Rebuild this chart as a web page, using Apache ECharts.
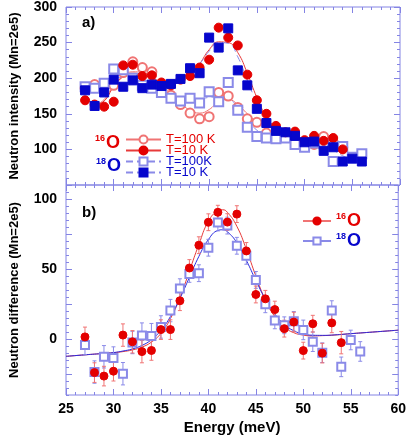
<!DOCTYPE html>
<html>
<head>
<meta charset="utf-8">
<style>
    html, body { margin: 0; padding: 0; background: #fff; }
    #chart { width: 409px; height: 436px; }
</style>
<script src="https://cdn.jsdelivr.net/npm/echarts@6/dist/echarts.min.js"></script>
</head>
<body>
<div id="chart"></div>
<script>
// energy grid of the measured points (meV)
var energy = [27, 28, 29, 30, 31, 32, 33, 34, 35, 36, 37, 38, 39, 40, 41, 42, 43, 44, 45, 46, 47, 48, 49, 50, 51, 52, 53, 54, 55, 56];

// panel a) neutron intensity, 16O runs stop at 54 meV
var o16Warm = [186, 191, 188, 190, 208, 223, 215, 209, 190, 176, 163, 151, 143, 146, 180, 175, 159, 143, 138, 123, 120, 117, 113, 104, 107, 118, 110, 103];
var o16Cold = [169, 163, 160, 167, 218, 219, 203, 204, 194, 190, 198, 203, 215, 226, 271, 257, 246, 205, 169, 150, 133, 124, 125, 113, 119, 112, 116, 100];
var o18Warm = [188, 186, 193, 213, 212, 200, 190, 186, 180, 172, 168, 172, 165, 181, 167, 194, 155, 131, 118, 116, 115, 116, 107, 103, 109, 108, 83, 104, 89, 94];
var o18Cold = [183, 161, 180, 198, 188, 197, 186, 191, 189, 192, 199, 214, 207, 257, 243, 270, 211, 190, 157, 137, 126, 124, 119, 110, 111, 98, 103, 83, 87, 83];

// panel a) fitted curves
var fit16E = [28, 29, 30, 31, 32, 33, 34, 35, 36, 37, 38, 39, 40, 41, 42, 43, 44, 45, 46, 47, 48, 49, 50, 51, 52, 53, 54];
var fit16Warm = [162, 170, 190, 203, 209, 208, 202, 192, 178, 165, 155, 151, 156, 167, 170, 163, 150, 138, 129, 123, 118, 114, 110, 108, 107, 106, 105];
var fit16Cold = [162, 168, 188, 202, 207, 205, 200, 194, 192, 196, 204, 220, 240, 251, 250, 236, 207, 173, 146, 130, 120, 114, 110, 108, 106, 105, 104];
var fit18Warm = [190, 192, 196, 200, 201, 199, 194, 188, 181, 175, 171, 170, 171, 173, 174, 171, 160, 142, 127, 119, 116, 114, 111, 108, 106, 104, 101, 97, 94, 92];
var fit18Cold = [186, 185, 186, 188, 190, 191, 191, 191, 192, 194, 198, 206, 220, 238, 250, 249, 230, 197, 166, 143, 129, 121, 116, 112, 109, 105, 99, 91, 86, 84];

// panel b) neutron difference with error bars
var diff16 = [1.5, -24, -26.5, -23, 2.8, -2, -9, -8.2, 6.7, 6.7, 27.3, 50.7, 67, 83.4, 90.5, 83.5, 89.2, 62.9, 31.8, 28.7, 21, 7.4, 12.1, -8.3, 10.9, -10.1, 11.5, -2.6];
var diff16Err = [7, 7, 7, 7, 8, 8, 8, 7, 7, 7, 7, 6, 6, 6, 5, 6, 6, 6, 6, 6, 6, 6, 7, 6, 6, 7, 7, 8];
var diff18 = [-4.2, -23.6, -12.7, -13.6, -24.8, -2.5, 2.5, 2.1, 8.6, 20.3, 36, 46.5, 47, 65.2, 83.2, 81, 66.6, 59.4, 42.2, 24.8, 13.3, 9.8, 12.6, 6.5, -1.9, -9.8, 20.3, -19.9, -0.7, -8.9];
var diff18Err = [7, 8, 8, 8, 8, 8, 9, 9, 8, 8, 7, 6, 6, 6, 6, 6, 6, 6, 6, 6, 6, 6, 7, 7, 7, 7, 7, 7, 7, 7];

// panel b) fitted gaussians on a sloping background
var fitDiffE = [25, 27, 29, 30, 31, 32, 33, 34, 35, 36, 37, 38, 39, 40, 41, 41.5, 42, 43, 44, 45, 46, 47, 48, 49, 50, 51, 52, 53, 55, 57, 60];
var fitDiff16 = [-12.4, -11.3, -10.3, -9.8, -9.0, -7.8, -5.8, -2.2, 4, 14.5, 29.5, 48.5, 67.5, 84, 91.5, 92.3, 90.5, 80.5, 64, 45, 28, 16, 8.5, 4.5, 2.8, 2.2, 2.4, 2.7, 3.8, 4.8, 6.3];
var fitDiff18 = [-12.4, -11.3, -10.3, -9.7, -8.6, -7.1, -4.6, -0.5, 6.2, 16, 29, 44, 59, 71, 77.5, 78, 76.6, 68.8, 56.2, 41.9, 28.5, 17.9, 10.4, 5.9, 3.6, 2.7, 2.6, 2.8, 3.8, 4.8, 6.3];

// tick labels
var xTicks = [25, 30, 35, 40, 45, 50, 55, 60];
var yTicksA = [100, 150, 200, 250, 300];
var yTicksB = [0, 50, 100];
var yMajorB = [-25, 0, 25, 50, 75, 100];
var legendA = ['T=100 K', 'T=10 K', 'T=100K', 'T=10 K'];

var FONT = 'Liberation Sans, Arial, Helvetica, sans-serif';
var FRAME = '#8484e4';
var RED = '#e40000';
var RED_LIGHT = '#f07474';
var BLUE = '#0606cc';
var BLUE_LIGHT = '#8a8ae8';

function pairs (xs, ys) {
    var out = [];
    for (var i = 0; i < ys.length; i++) {
        if (ys[i] != null) out.push([xs[i], ys[i]]);
    }
    return out;
}

function withErr (xs, ys, errs) {
    return ys.map(function (v, i) { return [xs[i], v - errs[i], v + errs[i]]; });
}

var tickStyle = {color: FRAME, width: 1};
var labelStyle = {color: '#000', fontFamily: FONT, fontWeight: 'bold', fontSize: 14};
var nameStyle = {color: '#000', fontFamily: FONT, fontWeight: 'bold', fontSize: 13};
var noLine = {show: false, onZero: false};

function xAxisFor (grid, pos, labels) {
    return {
        type: 'value', gridIndex: grid, position: pos,
        min: 25, max: 60, interval: 5,
        axisLine: noLine,
        axisTick: {inside: true, length: 6, lineStyle: tickStyle},
        minorTick: {show: true, splitNumber: 5, length: 3, lineStyle: tickStyle},
        splitLine: {show: false},
        axisLabel: Object.assign({show: labels, margin: 7, formatter: function (v) {
            return xTicks.indexOf(v) > -1 ? v : '';
        }}, labelStyle)
    };
}

function yAxisFor (grid, pos, min, max, interval, tickLen, extra) {
    var axis = {
        type: 'value', gridIndex: grid, position: pos, min: min, max: max,
        axisLine: noLine, splitLine: {show: false}, axisLabel: {show: false},
        axisTick: {inside: true, length: tickLen, lineStyle: tickStyle}
    };
    if (interval) axis.interval = interval;
    return Object.assign(axis, extra || {});
}

function errorBars (data, color) {
    return {
        type: 'custom', xAxisIndex: 2, yAxisIndex: 2,
        data: data, encode: {x: 0, y: [1, 2]},
        silent: true, z: 2,
        renderItem: function (params, api) {
            var lo = api.coord([api.value(0), api.value(1)]);
            var hi = api.coord([api.value(0), api.value(2)]);
            var style = {stroke: color, lineWidth: 1};
            return {
                type: 'group',
                children: [
                    {type: 'line', shape: {x1: lo[0], y1: lo[1], x2: hi[0], y2: hi[1]}, style: style},
                    {type: 'line', shape: {x1: lo[0] - 2, y1: lo[1], x2: lo[0] + 2, y2: lo[1]}, style: style},
                    {type: 'line', shape: {x1: hi[0] - 2, y1: hi[1], x2: hi[0] + 2, y2: hi[1]}, style: style}
                ]
            };
        }
    };
}

function fitLine (name, x, y, xi, yi, color, dashed, symbol, symColor) {
    return {
        name: name, type: 'line', xAxisIndex: xi, yAxisIndex: yi,
        data: pairs(x, y), smooth: true, showSymbol: false,
        symbol: symbol, symbolSize: 8,
        itemStyle: {color: symColor, borderColor: symColor, borderWidth: 1},
        lineStyle: {color: color, width: 1, type: dashed ? [7, 4] : 'solid'},
        silent: true, z: 1
    };
}

function points (x, y, xi, yi, symbol, size, color) {
    return {
        type: 'scatter', xAxisIndex: xi, yAxisIndex: yi,
        data: pairs(x, y), symbol: symbol, symbolSize: size,
        itemStyle: {color: color, borderColor: color, borderWidth: 1, opacity: 1},
        silent: true, z: 3
    };
}

// "16O" / "18O" labels: small superscript mass number before a big O
function isoRich (key) {
    return {
        rs: {fontFamily: FONT, fontWeight: 'bold', fontSize: 9, [key]: RED, verticalAlign: 'top', lineHeight: 18},
        ro: {fontFamily: FONT, fontWeight: 'bold', fontSize: 18, [key]: RED, lineHeight: 18, padding: [0, 0, 0, 1]},
        bs: {fontFamily: FONT, fontWeight: 'bold', fontSize: 9, [key]: BLUE, verticalAlign: 'top', lineHeight: 18},
        bo: {fontFamily: FONT, fontWeight: 'bold', fontSize: 18, [key]: BLUE, lineHeight: 18, padding: [0, 0, 0, 1]}
    };
}

var chart = echarts.init(document.getElementById('chart'));

chart.setOption({
    animation: false,
    backgroundColor: '#fff',
    grid: [
        {left: 64, right: 9, top: 5, height: 180, show: true, borderColor: FRAME, borderWidth: 1},
        {left: 64, right: 9, top: 185, height: 212, show: true, borderColor: FRAME, borderWidth: 1}
    ],
    xAxis: [
        xAxisFor(0, 'bottom', false),
        xAxisFor(0, 'top', false),
        Object.assign(xAxisFor(1, 'bottom', true), {
            name: 'Energy (meV)', nameLocation: 'middle', nameGap: 25,
            nameTextStyle: Object.assign({}, nameStyle, {fontSize: 15})
        }),
        xAxisFor(1, 'top', false)
    ],
    yAxis: [
        yAxisFor(0, 'left', 50, 300, 50, 6, {
            name: 'Neutron intensity (Mn=2e5)', nameLocation: 'middle', nameGap: 45, nameTextStyle: nameStyle,
            minorTick: {show: true, splitNumber: 5, length: 3, lineStyle: tickStyle},
            axisLabel: Object.assign({margin: 9, formatter: function (v) {
                return yTicksA.indexOf(v) > -1 ? v : '';
            }}, labelStyle)
        }),
        yAxisFor(0, 'right', 50, 300, 50, 6, {
            minorTick: {show: true, splitNumber: 5, length: 3, lineStyle: tickStyle}
        }),
        yAxisFor(1, 'left', -40, 110, 5, 3, {
            name: 'Neutron difference (Mn=2e5)', nameLocation: 'middle', nameGap: 45, nameTextStyle: nameStyle,
            axisLabel: Object.assign({margin: 9, formatter: function (v) {
                return yTicksB.indexOf(v) > -1 ? v : '';
            }}, labelStyle)
        }),
        yAxisFor(1, 'left', -40, 110, null, 6, {
            axisTick: {inside: true, length: 6, lineStyle: tickStyle, customValues: yMajorB}
        }),
        yAxisFor(1, 'right', -40, 110, 5, 3),
        yAxisFor(1, 'right', -40, 110, null, 6, {
            axisTick: {inside: true, length: 6, lineStyle: tickStyle, customValues: yMajorB}
        })
    ],
    legend: [
        {
            left: 125, top: 133, orient: 'vertical', padding: 0, itemGap: -2,
            itemWidth: 35, itemHeight: 10, selectedMode: false,
            data: [
                {name: 'a16_100', textStyle: {color: RED}},
                {name: 'a16_10', textStyle: {color: RED}},
                {name: 'a18_100', textStyle: {color: BLUE}},
                {name: 'a18_10', textStyle: {color: BLUE}}
            ],
            formatter: function (n) {
                return legendA[['a16_100', 'a16_10', 'a18_100', 'a18_10'].indexOf(n)];
            },
            textStyle: {fontFamily: FONT, fontSize: 13, lineHeight: 11}
        },
        {
            left: 302, top: 212, orient: 'vertical', padding: 0, itemGap: 2,
            itemWidth: 28, itemHeight: 9, selectedMode: false,
            data: [
                {name: 'd16', lineStyle: {color: RED_LIGHT}},
                {name: 'd18', lineStyle: {color: BLUE_LIGHT}}
            ],
            formatter: function (n) {
                return n === 'd16' ? '{rs|16}{ro|O}' : '{bs|18}{bo|O}';
            },
            textStyle: {rich: isoRich('color')}
        }
    ],
    graphic: [
        {type: 'text', x: 82, y: 23, style: {text: 'a)', font: 'bold 15px ' + FONT, fill: '#000', verticalAlign: 'middle'}},
        {type: 'text', x: 82, y: 213, style: {text: 'b)', font: 'bold 15px ' + FONT, fill: '#000', verticalAlign: 'middle'}},
        {type: 'text', x: 95, y: 143, style: {text: '{rs|16}{ro|O}', rich: isoRich('fill'), verticalAlign: 'middle'}},
        {type: 'text', x: 96, y: 166, style: {text: '{bs|18}{bo|O}', rich: isoRich('fill'), verticalAlign: 'middle'}}
    ],
    series: [
        // panel a)
        fitLine('a16_100', fit16E, fit16Warm, 0, 0, RED_LIGHT, false, 'emptyCircle', RED_LIGHT),
        fitLine('a16_10', fit16E, fit16Cold, 0, 0, '#e83a3a', false, 'circle', RED),
        fitLine('a18_100', energy, fit18Warm, 0, 0, BLUE_LIGHT, true, 'emptyRect', BLUE_LIGHT),
        fitLine('a18_10', energy, fit18Cold, 0, 0, BLUE_LIGHT, true, 'rect', BLUE),
        points(energy, o16Warm, 0, 0, 'emptyCircle', 9, RED_LIGHT),
        points(energy, o18Warm, 0, 0, 'emptyRect', 9, BLUE_LIGHT),
        points(energy, o16Cold, 0, 0, 'circle', 9, RED),
        points(energy, o18Cold, 0, 0, 'rect', 9, BLUE),
        // panel b)
        fitLine('d16', fitDiffE, fitDiff16, 2, 2, '#e83a3a', false, 'circle', RED),
        fitLine('d18', fitDiffE, fitDiff18, 2, 2, '#2a2ae0', false, 'emptyRect', BLUE_LIGHT),
        errorBars(withErr(energy, diff18, diff18Err), BLUE_LIGHT),
        errorBars(withErr(energy, diff16, diff16Err), RED_LIGHT),
        points(energy, diff18, 2, 2, 'emptyRect', 8, BLUE_LIGHT),
        points(energy, diff16, 2, 2, 'circle', 8, RED)
    ]
});
</script>
</body>
</html>
